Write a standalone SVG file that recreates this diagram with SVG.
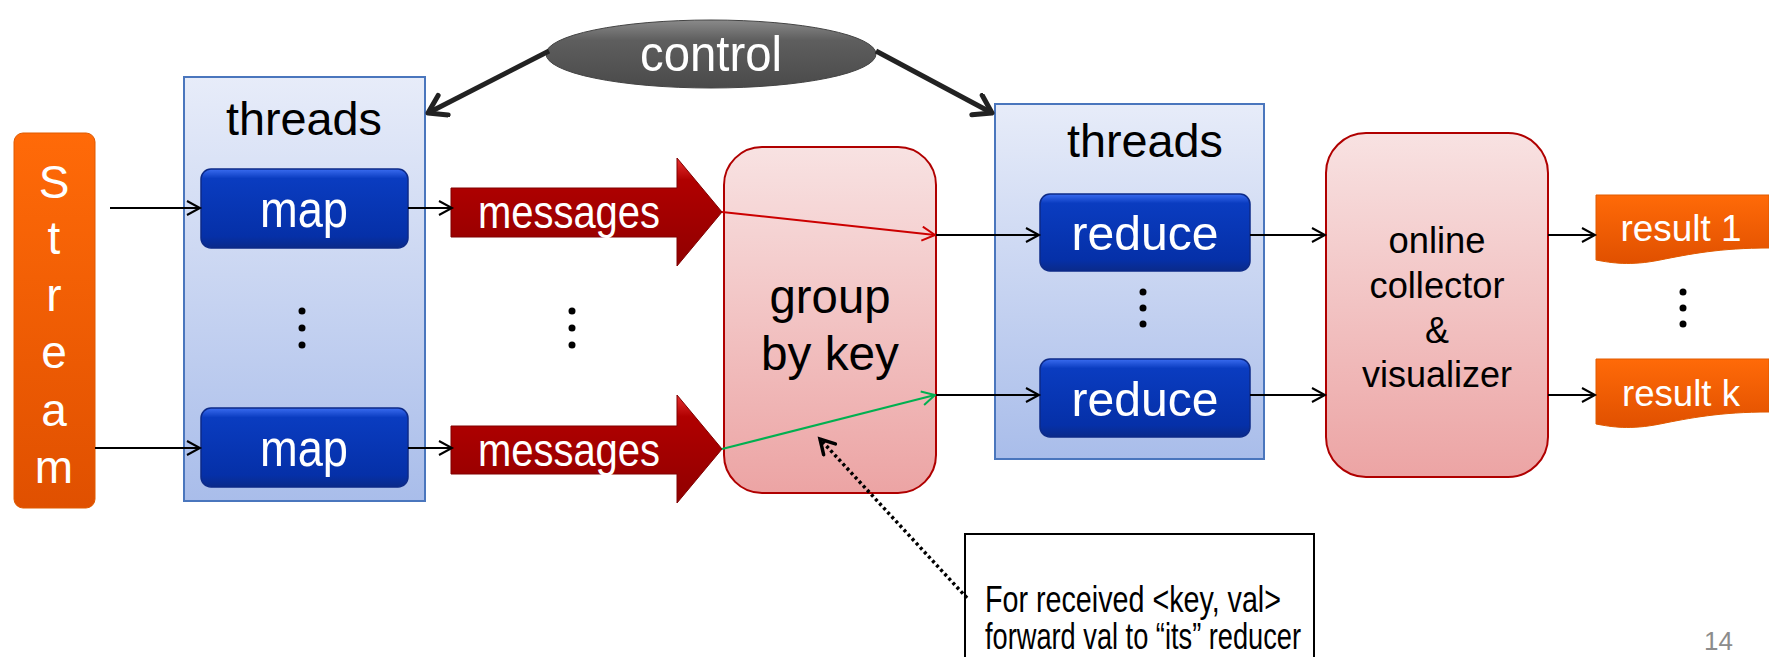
<svg xmlns="http://www.w3.org/2000/svg" width="1769" height="657" viewBox="0 0 1769 657">
<defs>
<linearGradient id="gThreads" x1="0" y1="0" x2="0" y2="1"><stop offset="0" stop-color="#e7ecf9"/><stop offset="1" stop-color="#a9bdea"/></linearGradient>
<linearGradient id="gBlue" x1="0" y1="0" x2="0" y2="1"><stop offset="0" stop-color="#3a6cf0"/><stop offset="0.12" stop-color="#0a3cc0"/><stop offset="0.85" stop-color="#0530a8"/><stop offset="1" stop-color="#0a2a8a"/></linearGradient>
<linearGradient id="gOrange" x1="0" y1="0" x2="0" y2="1"><stop offset="0" stop-color="#ff6a08"/><stop offset="1" stop-color="#e05000"/></linearGradient>
<linearGradient id="gRed" x1="0" y1="0" x2="0" y2="1"><stop offset="0" stop-color="#e83030"/><stop offset="0.2" stop-color="#b00000"/><stop offset="1" stop-color="#900000"/></linearGradient>
<linearGradient id="gPink" x1="0" y1="0" x2="0" y2="1"><stop offset="0" stop-color="#f8e2e2"/><stop offset="1" stop-color="#eca4a4"/></linearGradient>
<linearGradient id="gGray" x1="0" y1="0" x2="0" y2="1"><stop offset="0" stop-color="#8a8a8a"/><stop offset="0.3" stop-color="#5e5e5e"/><stop offset="1" stop-color="#4a4a4a"/></linearGradient>
<marker id="open" markerUnits="userSpaceOnUse" markerWidth="20" markerHeight="20" refX="14" refY="8" orient="auto"><path d="M1,1 L14,8 L1,15" fill="none" stroke="#000" stroke-width="2"/></marker>
<marker id="openR" markerUnits="userSpaceOnUse" markerWidth="20" markerHeight="20" refX="14" refY="8" orient="auto"><path d="M1,1 L14,8 L1,15" fill="none" stroke="#cc0000" stroke-width="2"/></marker>
<marker id="openG" markerUnits="userSpaceOnUse" markerWidth="20" markerHeight="20" refX="14" refY="8" orient="auto"><path d="M1,1 L14,8 L1,15" fill="none" stroke="#00b050" stroke-width="2"/></marker>
<marker id="thick" markerUnits="userSpaceOnUse" markerWidth="30" markerHeight="30" refX="20" refY="13" orient="auto"><path d="M3,2 L20,13 L3,24" fill="none" stroke="#222" stroke-width="5" stroke-linecap="round" stroke-linejoin="round"/></marker>
<marker id="dotHead" markerUnits="userSpaceOnUse" markerWidth="24" markerHeight="24" refX="16" refY="10" orient="auto"><path d="M2,2 L16,10 L2,18" fill="none" stroke="#000" stroke-width="3.5" stroke-linecap="round"/></marker>
</defs>
<style>
text{font-family:"Liberation Sans",Arial,sans-serif;}
.threads{fill:url(#gThreads);stroke:#4a76bd;stroke-width:2;}
.blue{fill:url(#gBlue);stroke:#0c2a88;stroke-width:1.5;}
.wt{fill:#fff;text-anchor:middle;}
.bt{fill:#000;text-anchor:middle;}
.pink{fill:url(#gPink);stroke:#b00000;stroke-width:2;}
.orange{fill:url(#gOrange);stroke:#e05a00;stroke-width:1;}
.msg{fill:url(#gRed);stroke:#800000;stroke-width:1;}
.ln{stroke:#000;stroke-width:2;fill:none;}
.dot{fill:#000;}
</style>

<g id="control">
<ellipse cx="711" cy="54" rx="165" ry="34" fill="url(#gGray)" stroke="#444" stroke-width="1"/>
<text class="wt" x="711" y="71" font-size="50" textLength="142" lengthAdjust="spacingAndGlyphs">control</text>
</g>

<g id="stream">
<rect class="orange" x="14" y="133" width="81" height="375" rx="9"/>
<g class="wt" font-size="46">
<text x="54" y="198">S</text>
<text x="54" y="254">t</text>
<text x="54" y="311">r</text>
<text x="54" y="368">e</text>
<text x="54" y="426">a</text>
<text x="54" y="483">m</text>
</g>
</g>

<g id="map-threads">
<rect class="threads" x="184" y="77" width="241" height="424"/>
<text class="bt" x="304" y="135" font-size="47" textLength="156" lengthAdjust="spacingAndGlyphs">threads</text>
<circle class="dot" cx="302" cy="311" r="3.5"/><circle class="dot" cx="302" cy="328" r="3.5"/><circle class="dot" cx="302" cy="345" r="3.5"/>
</g>
<g id="map1">
<rect class="blue" x="201" y="169" width="207" height="79" rx="10"/>
<text class="wt" x="304" y="227" font-size="52" textLength="88" lengthAdjust="spacingAndGlyphs">map</text>
</g>
<g id="map2">
<rect class="blue" x="201" y="408" width="207" height="79" rx="10"/>
<text class="wt" x="304" y="466" font-size="52" textLength="88" lengthAdjust="spacingAndGlyphs">map</text>
</g>

<g id="messages1">
<path class="msg" d="M451,188 L677,188 L677,158 L722,212 L677,266 L677,237 L451,237 Z"/>
<text class="wt" x="569" y="228" font-size="46" textLength="182" lengthAdjust="spacingAndGlyphs">messages</text>
</g>
<g id="messages2">
<path class="msg" d="M451,426 L677,426 L677,395 L722,449 L677,503 L677,474 L451,474 Z"/>
<text class="wt" x="569" y="466" font-size="46" textLength="182" lengthAdjust="spacingAndGlyphs">messages</text>
</g>
<g id="dots-mid">
<circle class="dot" cx="572" cy="311" r="3.5"/><circle class="dot" cx="572" cy="328" r="3.5"/><circle class="dot" cx="572" cy="345" r="3.5"/>
</g>

<g id="group-by-key">
<rect class="pink" x="724" y="147" width="212" height="346" rx="38"/>
<text class="bt" x="830" y="313" font-size="48" textLength="121" lengthAdjust="spacingAndGlyphs">group</text>
<text class="bt" x="830" y="370" font-size="48" textLength="138" lengthAdjust="spacingAndGlyphs">by key</text>
</g>

<g id="reduce-threads">
<rect class="threads" x="995" y="104" width="269" height="355"/>
<text class="bt" x="1145" y="157" font-size="47" textLength="156" lengthAdjust="spacingAndGlyphs">threads</text>
<circle class="dot" cx="1143" cy="292" r="3.5"/><circle class="dot" cx="1143" cy="308" r="3.5"/><circle class="dot" cx="1143" cy="324" r="3.5"/>
</g>
<g id="reduce1">
<rect class="blue" x="1040" y="194" width="210" height="77" rx="10"/>
<text class="wt" x="1145" y="250" font-size="49" textLength="147" lengthAdjust="spacingAndGlyphs">reduce</text>
</g>
<g id="reduce2">
<rect class="blue" x="1040" y="359" width="210" height="78" rx="10"/>
<text class="wt" x="1145" y="416" font-size="49" textLength="147" lengthAdjust="spacingAndGlyphs">reduce</text>
</g>

<g id="collector">
<rect class="pink" x="1326" y="133" width="222" height="344" rx="40"/>
<g class="bt" font-size="36">
<text x="1437" y="253" textLength="97" lengthAdjust="spacingAndGlyphs">online</text>
<text x="1437" y="298" textLength="135" lengthAdjust="spacingAndGlyphs">collector</text>
<text x="1437" y="343">&amp;</text>
<text x="1437" y="387" textLength="150" lengthAdjust="spacingAndGlyphs">visualizer</text>
</g>
</g>

<g id="result1">
<path class="orange" d="M1596,195 L1769,195 L1769,248 C1720,248 1690,254 1660,260 C1630,266 1612,263 1596,260 Z"/>
<text class="wt" x="1681" y="241" font-size="36" textLength="121" lengthAdjust="spacingAndGlyphs">result 1</text>
</g>
<g id="dots-right">
<circle class="dot" cx="1683" cy="292" r="3.5"/><circle class="dot" cx="1683" cy="308" r="3.5"/><circle class="dot" cx="1683" cy="324" r="3.5"/>
</g>
<g id="resultk">
<path class="orange" d="M1596,359 L1769,359 L1769,412 C1720,412 1690,418 1660,424 C1630,430 1612,427 1596,424 Z"/>
<text class="wt" x="1681" y="406" font-size="36" textLength="118" lengthAdjust="spacingAndGlyphs">result k</text>
</g>

<g id="callout">
<rect x="965" y="534" width="349" height="140" fill="#fff" stroke="#000" stroke-width="2"/>
<text x="985" y="612" font-size="37" textLength="296" lengthAdjust="spacingAndGlyphs">For received &lt;key, val&gt;</text>
<text x="985" y="649" font-size="37" textLength="316" lengthAdjust="spacingAndGlyphs">forward val to “its” reducer</text>
</g>

<g id="page-number">
<text x="1704" y="650" font-size="26" fill="#8c8c8c">14</text>
</g>

<g id="connectors">
<line class="ln" x1="110" y1="208" x2="200" y2="208" marker-end="url(#open)"/>
<line class="ln" x1="95" y1="448" x2="200" y2="448" marker-end="url(#open)"/>
<line class="ln" x1="408" y1="208" x2="452" y2="208" marker-end="url(#open)"/>
<line class="ln" x1="408" y1="448" x2="452" y2="448" marker-end="url(#open)"/>
<line x1="722" y1="212" x2="935" y2="235" stroke="#cc0000" stroke-width="2" marker-end="url(#openR)"/>
<line x1="722" y1="449" x2="935" y2="395" stroke="#00b050" stroke-width="2" marker-end="url(#openG)"/>
<line class="ln" x1="936" y1="235" x2="1039" y2="235" marker-end="url(#open)"/>
<line class="ln" x1="936" y1="395" x2="1039" y2="395" marker-end="url(#open)"/>
<line class="ln" x1="1250" y1="235" x2="1325" y2="235" marker-end="url(#open)"/>
<line class="ln" x1="1250" y1="395" x2="1325" y2="395" marker-end="url(#open)"/>
<line class="ln" x1="1548" y1="235" x2="1595" y2="235" marker-end="url(#open)"/>
<line class="ln" x1="1548" y1="395" x2="1595" y2="395" marker-end="url(#open)"/>
<line x1="549" y1="51" x2="428" y2="113" stroke="#222" stroke-width="5" marker-end="url(#thick)"/>
<line x1="876" y1="51" x2="992" y2="113" stroke="#222" stroke-width="5" marker-end="url(#thick)"/>
<line x1="967" y1="598" x2="820" y2="439" stroke="#000" stroke-width="3.5" stroke-dasharray="3 3" marker-end="url(#dotHead)"/>
</g>
</svg>
